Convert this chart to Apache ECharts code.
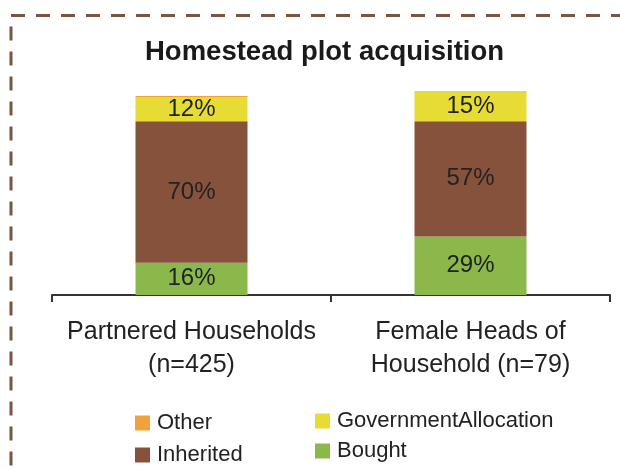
<!DOCTYPE html>
<html>
<head>
<meta charset="utf-8">
<script src="https://cdn.jsdelivr.net/npm/echarts@6/dist/echarts.min.js"></script>
<style>html,body{margin:0;padding:0;background:#fff;}#c{width:620px;height:473px;}</style>
</head>
<body>
<div id="c"></div>
<script>
var categories = ['Partnered Households\n(n=425)', 'Female Heads of\nHousehold (n=79)'];
var bought = [16, 29];
var inherited = [70, 57];
var government = [12, 15];
var other = [0.5, 0];

var FONT = '"Liberation Sans", Arial, Helvetica, sans-serif';
var chart = echarts.init(document.getElementById('c'), null, {renderer: 'canvas'});

function barSeries(name, data, color, showLabel) {
  return {
    name: name, type: 'bar', stack: 'total', data: data, barWidth: 112,
    itemStyle: {color: color},
    label: {show: showLabel, position: 'inside', formatter: '{c}%', fontSize: 24, color: '#222', fontFamily: FONT},
    emphasis: {disabled: true}
  };
}

chart.setOption({
  animation: false,
  title: {
    text: 'Homestead plot acquisition', left: 140, top: 33,
    textStyle: {fontSize: 27.5, fontWeight: 'bold', color: '#1a1a1a', fontFamily: FONT}
  },
  grid: {left: 52, right: 10, top: 91, bottom: 178},
  xAxis: {
    type: 'category', data: categories, boundaryGap: true,
    axisLine: {lineStyle: {color: '#333', width: 2}},
    axisTick: {show: true, length: 7, lineStyle: {color: '#333', width: 2}},
    axisLabel: {fontSize: 25, lineHeight: 33, color: '#222', margin: 21, fontFamily: FONT, interval: 0}
  },
  yAxis: {type: 'value', min: 0, max: 101, show: false, splitLine: {show: false}},
  legend: [
    {
      data: ['Other', 'Inherited'], orient: 'vertical', left: 135, top: 412, padding: 0,
      itemWidth: 15, itemHeight: 15, itemGap: 10, icon: 'rect',
      textStyle: {fontSize: 22, color: '#222', fontFamily: FONT, padding: [0, 0, 0, 2]},
      selectedMode: false
    },
    {
      data: ['GovernmentAllocation', 'Bought'], orient: 'vertical', left: 315, top: 410, padding: 0,
      itemWidth: 15, itemHeight: 15, itemGap: 8, icon: 'rect',
      textStyle: {fontSize: 22, color: '#222', fontFamily: FONT, padding: [0, 0, 0, 2]},
      selectedMode: false
    }
  ],
  graphic: [{
    type: 'rect', silent: true,
    shape: {x: 11, y: 15.5, width: 700, height: 600},
    style: {fill: 'none', stroke: '#7a5541', lineWidth: 3, lineDash: [14, 11]}
  }],
  series: [
    barSeries('Bought', bought, '#8ab84a', true),
    barSeries('Inherited', inherited, '#87523b', true),
    barSeries('GovernmentAllocation', government, '#e6dc33', true),
    barSeries('Other', other, '#f0a33a', false)
  ]
});
</script>
</body>
</html>
